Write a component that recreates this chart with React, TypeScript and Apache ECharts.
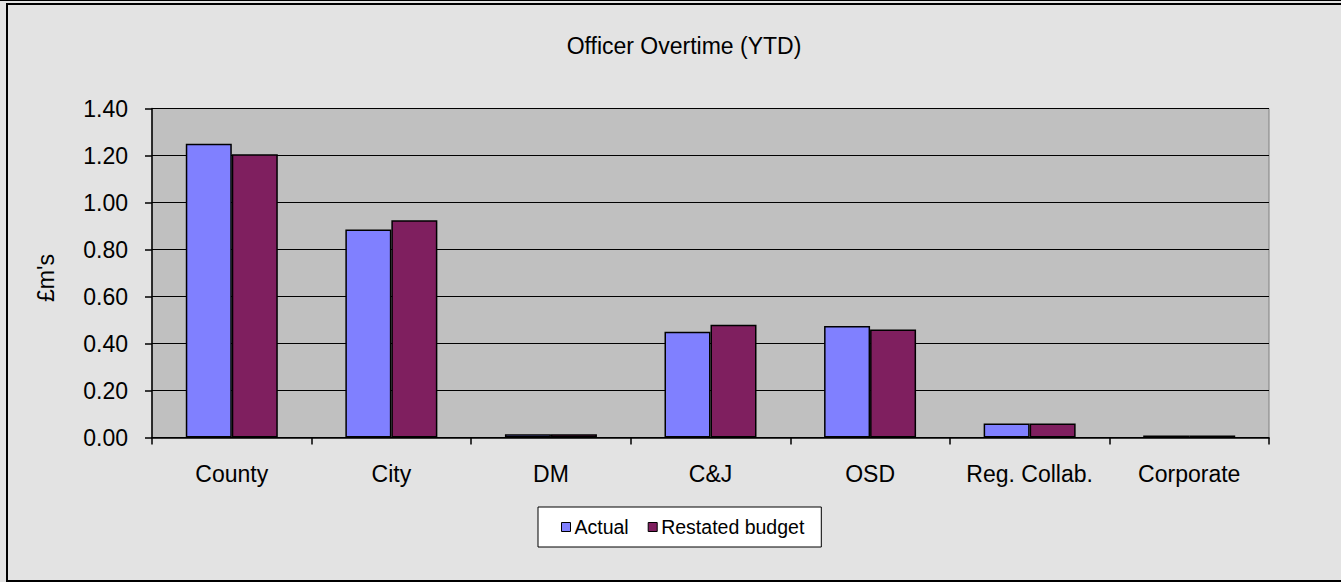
import React, { useEffect, useRef } from "react";
import * as echarts from "echarts";

const categories = ["County", "City", "DM", "C&J", "OSD", "Reg. Collab.", "Corporate"];
const actual = [1.25, 0.885, 0.014, 0.45, 0.474, 0.06, 0.008];
const restatedBudget = [1.205, 0.925, 0.014, 0.48, 0.46, 0.06, 0.008];
const seriesNames = ["Actual", "Restated budget"];
const titleText = "Officer Overtime (YTD)";
const yAxisName = "£m's";

const FONT = "'Liberation Sans', Arial, sans-serif";

export default function App() {
  const ref = useRef<HTMLDivElement>(null);
  useEffect(() => {
    if (!ref.current) return;
    const chart = echarts.init(ref.current, null, { renderer: "svg" });
    chart.setOption({
      animation: false,
      backgroundColor: "#e3e3e3",
      textStyle: { fontFamily: FONT },
      grid: {
        left: 152,
        top: 108.5,
        right: 72,
        bottom: 144.5,
        show: true,
        backgroundColor: "#c0c0c0",
        borderColor: "#808080",
        borderWidth: 1,
      },
      graphic: [
        {
          type: "rect",
          shape: { x: 7, y: 4, width: 1345, height: 577 },
          style: { fill: "none", stroke: "#000", lineWidth: 2 },
          silent: true,
        },
        {
          type: "line",
          shape: { x1: 0, y1: 0.5, x2: 1341, y2: 0.5 },
          style: { stroke: "#000", lineWidth: 1 },
          silent: true,
        },
        {
          type: "text",
          x: 684,
          y: 46,
          style: {
            text: titleText,
            fill: "#000",
            font: `23px ${FONT}`,
            textAlign: "center",
            textVerticalAlign: "middle",
          },
        },
        {
          type: "text",
          x: 46,
          y: 278,
          rotation: Math.PI / 2,
          style: {
            text: yAxisName,
            fill: "#000",
            font: `23px ${FONT}`,
            textAlign: "center",
            textVerticalAlign: "middle",
          },
        },
      ],
      legend: {
        data: seriesNames,
        left: 538,
        top: 507,
        backgroundColor: "#fff",
        borderColor: "#000",
        borderWidth: 1,
        padding: [10, 17, 10, 23],
        itemGap: 19,
        itemWidth: 9,
        itemHeight: 9,
        icon: "rect",
        itemStyle: { borderColor: "#000", borderWidth: 1 },
        textStyle: { fontSize: 19.5, color: "#000", fontFamily: FONT, padding: [0, 0, 0, -1] },
      },
      xAxis: {
        type: "category",
        data: categories,
        axisLine: { lineStyle: { color: "#000", width: 1.5 } },
        axisTick: { show: true, length: 7, lineStyle: { color: "#000", width: 1.5 } },
        axisLabel: { color: "#000", fontSize: 23, margin: 25, interval: 0, fontFamily: FONT },
      },
      yAxis: {
        type: "value",
        min: 0,
        max: 1.4,
        interval: 0.2,
        axisLine: { show: true, lineStyle: { color: "#000", width: 1.5 } },
        axisTick: { show: true, length: 7, lineStyle: { color: "#000", width: 1.5 } },
        axisLabel: {
          color: "#000",
          fontSize: 23,
          margin: 24,
          fontFamily: FONT,
          formatter: (v: number) => v.toFixed(2),
        },
        splitLine: { show: true, lineStyle: { color: "#000", width: 1.2 } },
      },
      series: [
        {
          name: seriesNames[0],
          type: "bar",
          data: actual,
          barWidth: 46,
          barGap: "0%",
          itemStyle: { color: "#8080ff", borderColor: "#000", borderWidth: 1.5 },
        },
        {
          name: seriesNames[1],
          type: "bar",
          data: restatedBudget,
          barWidth: 46,
          barGap: "0%",
          itemStyle: { color: "#7f1f5f", borderColor: "#000", borderWidth: 1.5 },
        },
      ],
    });
    return () => chart.dispose();
  }, []);
  return (
    <div
      ref={ref}
      style={{ position: "fixed", left: 0, top: 0, width: 1341, height: 582 }}
    />
  );
}
